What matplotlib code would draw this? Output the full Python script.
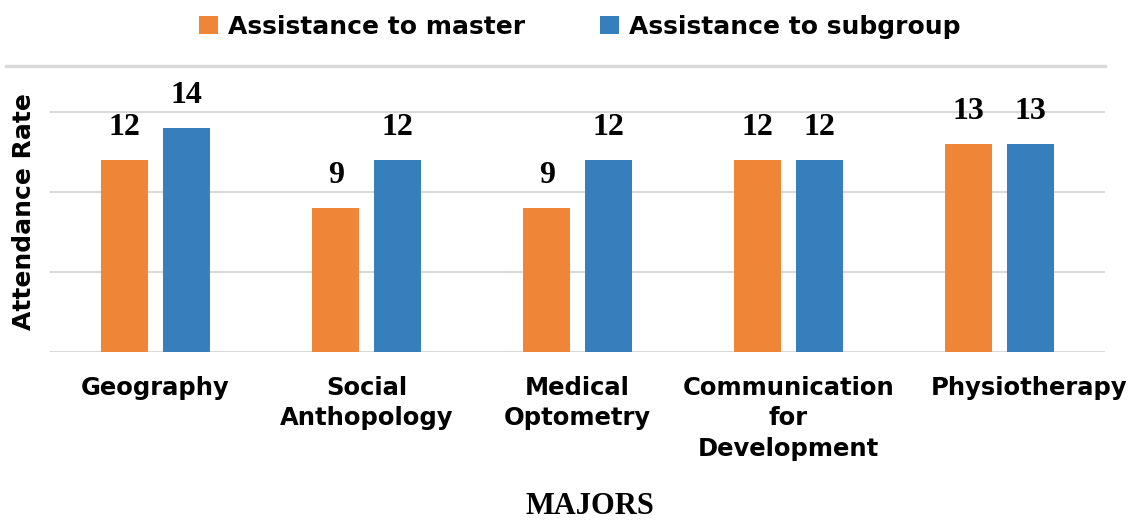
import numpy as np
import matplotlib.pyplot as plt
from matplotlib.lines import Line2D
from matplotlib.transforms import ScaledTranslation

majors = ["Geography", "Social\nAnthopology", "Medical\nOptometry",
          "Communication\nfor\nDevelopment", "Physiotherapy"]
master = [12, 9, 9, 12, 13]
subgroup = [14, 12, 12, 12, 13]

orange = "#EF8637"
blue = "#377EBC"
grid_color = "#D9D9D9"

fig = plt.figure(figsize=(11.43, 5.2), dpi=100)
ax = fig.add_axes([0.0437, 0.323, 0.923, 0.550])

x = np.arange(len(majors))
width = 0.223
offset = 0.145
b1 = ax.bar(x - offset, master, width, color=orange, label="Assistance to master", zorder=3)
b2 = ax.bar(x + offset, subgroup, width, color=blue, label="Assistance to subgroup", zorder=3)

for bars in (b1, b2):
    ax.bar_label(bars, padding=13, fontsize=23, fontweight="bold",
                 family="Liberation Serif")

ax.set_xlim(-0.5, len(majors) - 0.5)
ax.set_ylim(0, 17.9)
ax.set_yticks([0, 5, 10, 15])
ax.set_yticklabels([])
ax.yaxis.grid(True, color=grid_color, linewidth=1.5, zorder=0)
ax.tick_params(axis="y", length=0)
ax.tick_params(axis="x", length=0, pad=17)
ax.set_xticks(x)
ax.set_xticklabels(majors, fontsize=17.5, fontweight="bold", linespacing=1.35)

# last label sits a bit to the right, as in the original
last = ax.get_xticklabels()[-1]
last.set_transform(last.get_transform() + ScaledTranslation(0.3, 0, fig.dpi_scale_trans))

for side in ("left", "right", "bottom", "top"):
    ax.spines[side].set_visible(False)

# top border line of the chart area, slightly wider than the plot
top_y = 1 - 66 / 520
fig.add_artist(Line2D([6 / 1143, 1105 / 1143], [top_y, top_y],
                      color=grid_color, linewidth=2.5))

ax.set_ylabel("Attendance Rate", fontsize=18, fontweight="bold")
ax.yaxis.set_label_coords(-0.013, 0.49)

fig.text(0.516, 0.026, "MAJORS", ha="center", va="center", fontsize=22,
         fontweight="bold", family="Liberation Serif")

fig.legend(handles=[b1, b2], loc="upper center", bbox_to_anchor=(0.507, 1.015),
           ncol=2, frameon=False, handlelength=0.75, handleheight=0.75,
           handletextpad=0.4, columnspacing=3.0, prop={"weight": "bold", "size": 18})

fig.savefig("out.png", dpi=100)
